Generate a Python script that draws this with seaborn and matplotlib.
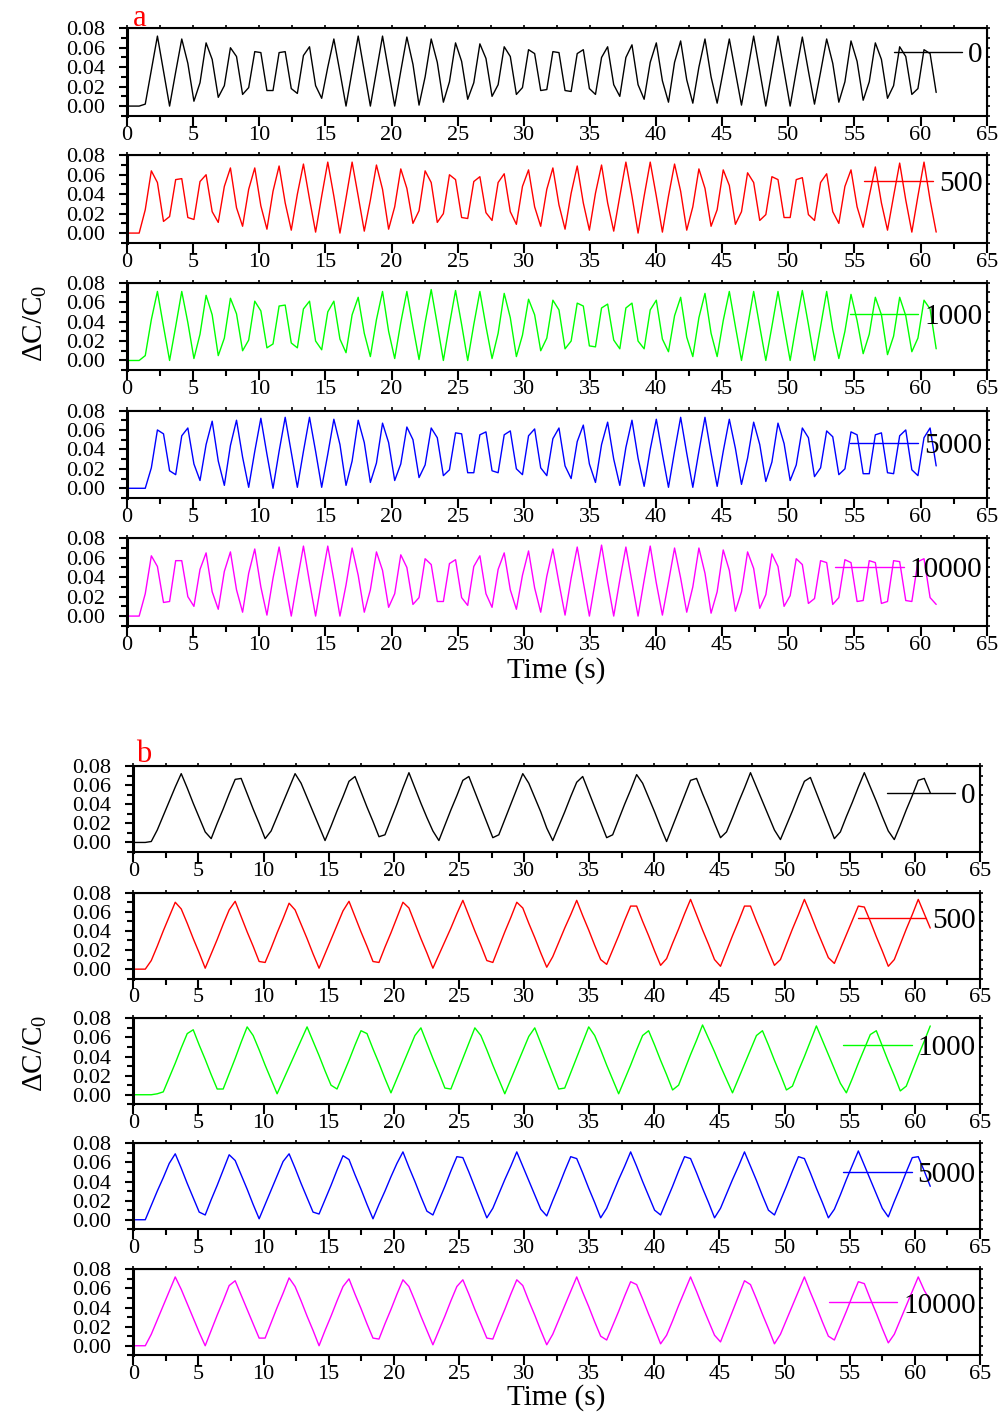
import numpy as np
import matplotlib
matplotlib.use("Agg")
import matplotlib.pyplot as plt
from matplotlib.ticker import MultipleLocator, FormatStrFormatter
import seaborn as sns


sns.set_style("ticks")
plt.rcParams["font.family"] = ["Liberation Serif", "DejaVu Serif"]
plt.rcParams["mathtext.fontset"] = "custom"
plt.rcParams["mathtext.rm"] = "Liberation Serif"
plt.rcParams["mathtext.it"] = "Liberation Serif:italic"
plt.rcParams["axes.edgecolor"] = "black"
plt.rcParams["xtick.color"] = "black"
plt.rcParams["ytick.color"] = "black"
plt.rcParams["text.color"] = "black"
plt.rcParams["axes.labelcolor"] = "black"


time_step = 0.46  # s between samples
concentrations = ["0", "500", "1000", "5000", "10000"]
colors = ["#000000", "#ff0000", "#00ff00", "#0000ff", "#ff00ff"]

# dC/C0, in units of 0.001
a_0 = [0, 0, 0, 2, 37, 72, 36, 0, 35, 69,
       44, 5, 24, 65, 48, 9, 21, 60, 51, 12,
       19, 56, 55, 16, 16, 55, 56, 18, 13, 52,
       61, 21, 8, 40, 69, 35, 0, 36, 72, 36,
       0, 36, 72, 36, 0, 36, 71, 43, 1, 30,
       69, 45, 4, 25, 65, 46, 7, 24, 64, 49,
       10, 22, 61, 51, 12, 19, 58, 54, 16, 17,
       56, 55, 16, 15, 54, 58, 18, 12, 50, 61,
       22, 10, 50, 63, 22, 7, 45, 65, 26, 4,
       45, 67, 27, 3, 40, 69, 30, 3, 36, 69,
       35, 1, 36, 72, 36, 0, 36, 72, 36, 0,
       36, 71, 36, 2, 35, 69, 44, 4, 25, 67,
       46, 6, 25, 65, 48, 8, 21, 61, 51, 12,
       18, 58, 54, 14]
a_500 = [0, 0, 0, 24, 64, 52, 12, 17, 55, 56,
         16, 14, 53, 60, 22, 11, 48, 67, 26, 7,
         45, 67, 28, 4, 43, 69, 31, 3, 40, 71,
         35, 1, 38, 73, 38, 0, 36, 73, 38, 2,
         34, 70, 45, 4, 27, 66, 46, 10, 23, 64,
         52, 11, 20, 60, 55, 16, 15, 53, 58, 21,
         13, 52, 61, 22, 9, 48, 65, 27, 7, 45,
         67, 29, 4, 41, 69, 31, 3, 41, 70, 31,
         2, 38, 73, 38, 0, 38, 73, 38, 1, 38,
         71, 43, 3, 27, 66, 46, 7, 24, 65, 49,
         9, 22, 62, 52, 13, 19, 58, 55, 16, 16,
         55, 57, 19, 13, 52, 61, 22, 10, 48, 65,
         27, 6, 38, 68, 31, 3, 38, 72, 34, 1,
         38, 73, 34, 1]
a_1000 = [0, 0, 0, 5, 42, 71, 35, 0, 35, 71,
          39, 2, 27, 67, 47, 5, 23, 64, 48, 10,
          21, 61, 51, 13, 17, 56, 57, 18, 13, 53,
          61, 20, 11, 50, 61, 22, 8, 47, 65, 28,
          4, 42, 71, 30, 2, 39, 71, 35, 1, 39,
          73, 37, 0, 37, 72, 37, 0, 37, 71, 35,
          2, 28, 69, 44, 4, 26, 63, 47, 10, 23,
          62, 52, 12, 20, 59, 56, 15, 14, 54, 58,
          21, 12, 54, 59, 20, 12, 52, 62, 22, 9,
          46, 65, 24, 4, 44, 69, 28, 4, 41, 71,
          35, 0, 35, 71, 35, 0, 35, 71, 35, 0,
          37, 72, 37, 0, 35, 71, 32, 2, 30, 68,
          41, 7, 27, 65, 47, 6, 25, 65, 46, 9,
          23, 62, 53, 12]
a_5000 = [0, 0, 0, 0, 21, 60, 56, 18, 14, 54,
          62, 25, 8, 45, 69, 28, 3, 44, 70, 32,
          1, 38, 72, 35, 0, 38, 73, 37, 1, 38,
          73, 38, 1, 35, 71, 45, 3, 28, 70, 47,
          6, 26, 67, 47, 8, 25, 63, 50, 11, 24,
          62, 52, 13, 19, 57, 56, 16, 16, 55, 58,
          18, 16, 55, 59, 20, 14, 54, 61, 21, 13,
          51, 62, 23, 10, 48, 65, 25, 6, 45, 68,
          30, 3, 42, 70, 31, 2, 40, 71, 35, 1,
          38, 73, 36, 1, 38, 73, 36, 2, 38, 71,
          41, 4, 31, 68, 45, 7, 27, 67, 46, 8,
          24, 62, 52, 12, 21, 59, 53, 14, 20, 58,
          55, 15, 15, 55, 57, 16, 15, 54, 60, 19,
          13, 52, 62, 23]
a_10000 = [0, 0, 0, 23, 62, 51, 14, 15, 57, 57,
           20, 10, 48, 65, 25, 7, 46, 66, 27, 4,
           44, 69, 30, 1, 39, 71, 35, 0, 37, 72,
           35, 0, 37, 72, 37, 0, 32, 70, 42, 4,
           27, 66, 47, 9, 23, 63, 50, 12, 19, 59,
           53, 15, 15, 54, 58, 19, 11, 51, 62, 23,
           9, 48, 65, 27, 7, 42, 67, 29, 4, 41,
           69, 34, 1, 39, 71, 35, 0, 37, 73, 35,
           0, 37, 71, 35, 0, 37, 72, 34, 1, 35,
           70, 39, 4, 30, 70, 44, 3, 25, 68, 47,
           5, 25, 66, 49, 8, 22, 64, 51, 10, 21,
           59, 53, 13, 18, 57, 55, 12, 19, 58, 55,
           15, 16, 57, 55, 13, 15, 57, 56, 16, 15,
           56, 59, 19, 12]

b_0 = [0, 0, 0, 1, 13, 28, 43, 58, 72, 57,
       41, 26, 11, 4, 20, 35, 51, 66, 67, 51,
       35, 20, 4, 12, 27, 42, 57, 72, 62, 47,
       32, 17, 2, 17, 33, 48, 64, 69, 53, 37,
       22, 6, 8, 24, 40, 57, 73, 57, 41, 26,
       12, 2, 18, 34, 49, 65, 69, 53, 37, 21,
       5, 8, 24, 40, 56, 72, 62, 47, 32, 15,
       2, 17, 32, 48, 63, 69, 53, 37, 21, 5,
       8, 24, 40, 55, 71, 62, 47, 32, 16, 1,
       17, 33, 49, 65, 67, 51, 36, 20, 5, 11,
       26, 42, 57, 73, 58, 43, 28, 13, 3, 18,
       33, 49, 64, 68, 52, 36, 20, 4, 11, 27,
       42, 58, 73, 58, 43, 27, 12, 3, 18, 34,
       49, 65, 67, 52]
b_500 = [0, 0, 0, 9, 24, 40, 55, 70, 63, 48,
         32, 17, 1, 16, 31, 47, 62, 71, 55, 39,
         24, 8, 7, 22, 38, 53, 69, 62, 47, 32,
         16, 1, 16, 31, 46, 61, 71, 55, 39, 24,
         8, 7, 23, 38, 54, 70, 64, 48, 32, 17,
         1, 15, 29, 43, 58, 72, 56, 40, 25, 9,
         7, 23, 39, 54, 70, 64, 48, 33, 17, 2,
         13, 28, 43, 57, 72, 56, 41, 25, 10, 5,
         20, 35, 51, 66, 66, 50, 35, 19, 4, 11,
         27, 42, 58, 73, 57, 41, 26, 10, 3, 19,
         35, 50, 66, 66, 50, 35, 19, 4, 10, 26,
         42, 57, 73, 58, 42, 27, 12, 6, 21, 36,
         51, 66, 65, 50, 34, 19, 3, 10, 26, 42,
         57, 73, 58, 43]
b_1000 = [0, 0, 0, 0, 1, 3, 18, 33, 49, 64,
          68, 52, 37, 21, 6, 6, 22, 38, 55, 71,
          62, 47, 31, 16, 1, 15, 29, 43, 57, 71,
          56, 41, 25, 10, 6, 21, 36, 52, 67, 64,
          48, 33, 17, 2, 17, 32, 47, 62, 70, 54,
          38, 23, 7, 6, 22, 38, 54, 70, 62, 47,
          31, 16, 1, 16, 31, 46, 61, 70, 54, 38,
          22, 6, 7, 23, 39, 55, 71, 62, 47, 31,
          16, 1, 16, 31, 47, 62, 67, 52, 36, 21,
          5, 10, 26, 42, 57, 73, 59, 45, 30, 16,
          2, 17, 32, 47, 62, 67, 52, 36, 21, 5,
          9, 25, 40, 56, 72, 57, 42, 27, 12, 2,
          17, 33, 48, 63, 67, 51, 35, 20, 4, 9,
          25, 41, 56, 72]
b_5000 = [0, 0, 0, 15, 30, 44, 59, 69, 54, 38,
          23, 8, 5, 21, 36, 52, 68, 62, 47, 32,
          16, 1, 16, 31, 46, 61, 69, 54, 38, 23,
          8, 6, 21, 36, 52, 67, 63, 47, 32, 16,
          1, 16, 30, 45, 59, 71, 55, 40, 24, 9,
          5, 20, 35, 51, 66, 65, 50, 34, 18, 2,
          12, 27, 42, 56, 71, 56, 41, 26, 11, 4,
          20, 35, 51, 66, 64, 49, 33, 18, 2, 12,
          27, 42, 56, 71, 56, 40, 25, 10, 5, 20,
          35, 51, 66, 64, 49, 33, 18, 2, 12, 27,
          42, 56, 71, 56, 41, 25, 10, 5, 20, 35,
          51, 66, 64, 49, 33, 18, 2, 11, 26, 42,
          57, 72, 57, 42, 27, 12, 3, 19, 34, 50,
          65, 66, 51, 35]
b_10000 = [0, 0, 0, 12, 27, 42, 57, 72, 59, 44,
           29, 14, 0, 16, 32, 47, 63, 68, 53, 38,
           23, 8, 8, 24, 40, 55, 71, 62, 47, 31,
           16, 0, 16, 31, 47, 62, 70, 54, 39, 23,
           8, 7, 23, 38, 54, 69, 62, 47, 31, 16,
           1, 16, 31, 47, 62, 69, 54, 38, 23, 8,
           7, 23, 38, 54, 69, 63, 47, 32, 16, 1,
           12, 27, 42, 57, 72, 56, 41, 25, 10, 6,
           21, 36, 52, 67, 64, 49, 33, 18, 2, 11,
           26, 42, 57, 72, 57, 41, 26, 11, 4, 20,
           36, 52, 68, 64, 49, 33, 18, 2, 12, 27,
           42, 57, 72, 56, 41, 25, 10, 6, 21, 36,
           52, 67, 65, 49, 34, 18, 3, 12, 27, 42,
           57, 72, 58, 47]

panel_a = [a_0, a_500, a_1000, a_5000, a_10000]
panel_b = [b_0, b_500, b_1000, b_5000, b_10000]


W, H = 1003, 1418
fig = plt.figure(figsize=(W / 100, H / 100), dpi=100)


def draw_panel(series, left, right, tops, height, legend_y):
    for vals, top, name, col, ly in zip(series, tops, concentrations, colors, legend_y):
        ax = fig.add_axes([left / W, 1 - (top + height) / H,
                           (right - left) / W, height / H])
        y = np.array(vals) / 1000
        t = np.arange(len(y)) * time_step
        sns.lineplot(x=t, y=y, ax=ax, color=col, lw=1.0, label=name,
                     estimator=None, sort=False)

        ax.set_xlim(0, 65)
        ax.set_ylim(-0.01, 0.08)
        ax.set_xlabel("")
        ax.set_ylabel("")
        ax.xaxis.set_major_locator(MultipleLocator(5))
        ax.xaxis.set_minor_locator(MultipleLocator(2.5))
        ax.yaxis.set_major_locator(MultipleLocator(0.02))
        ax.yaxis.set_minor_locator(MultipleLocator(0.01))
        ax.yaxis.set_major_formatter(FormatStrFormatter("%.2f"))

        ax.tick_params(axis="x", which="major", direction="out", length=7,
                       width=1.5, labelsize=16, pad=0)
        ax.tick_params(axis="x", which="minor", direction="out", length=4, width=1.5)
        ax.tick_params(axis="y", which="major", direction="out", length=6,
                       width=1.5, labelsize=16, pad=10)
        ax.tick_params(axis="y", which="minor", direction="out", length=4, width=1.5)

        for s in ax.spines.values():
            s.set_linewidth(1.5)
            s.set_visible(True)
        ax.spines["left"].set_linewidth(2.2)

        top_ax = ax.secondary_xaxis("top")
        top_ax.xaxis.set_major_locator(MultipleLocator(5))
        top_ax.xaxis.set_minor_locator(MultipleLocator(2.5))
        top_ax.tick_params(which="both", direction="out", length=2.5,
                           width=1.2, labeltop=False)
        right_ax = ax.secondary_yaxis("right")
        right_ax.yaxis.set_major_locator(MultipleLocator(0.02))
        right_ax.yaxis.set_minor_locator(MultipleLocator(0.01))
        right_ax.tick_params(which="both", direction="out", length=2.5,
                             width=1.2, labelright=False)

        ax.legend(loc="center right", bbox_to_anchor=(0.995, ly), frameon=False,
                  fontsize=21, handlelength=2.35, handletextpad=0.2,
                  borderpad=0, borderaxespad=0)


draw_panel(panel_a, 127, 986.7, [28.3, 155.3, 282.7, 410.5, 538.3], 87.5,
           [0.70, 0.67, 0.61, 0.60, 0.64])
draw_panel(panel_b, 133.3, 980, [766, 892.7, 1018.3, 1143.3, 1269.3], 86,
           [0.65, 0.67, 0.66, 0.635, 0.58])

fig.text(133 / W, 1 - 26 / H, "a", color="red", fontsize=22, va="baseline")
fig.text(136 / W, 1 - 762 / H, "b", color="red", fontsize=22, va="baseline")

for yc in [323, 1053]:
    fig.text(35 / W, 1 - yc / H, r"$\Delta$C/C$_0$", rotation=90,
             ha="center", va="center", fontsize=21)
for yc in [671, 1398]:
    fig.text(556.5 / W, 1 - yc / H, "Time (s)", ha="center", va="center",
             fontsize=21)

fig.savefig("out.png", dpi=100)
